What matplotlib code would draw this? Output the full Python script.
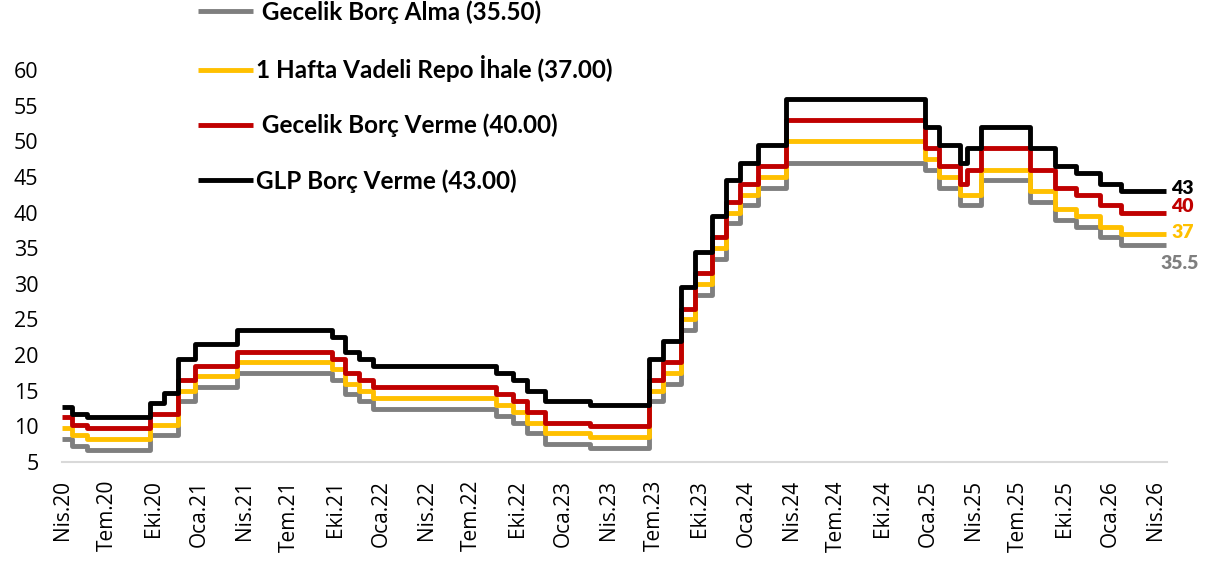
import matplotlib.pyplot as plt
import numpy as np
import pandas as pd

plt.rcParams['font.family'] = ['Open Sans', 'DejaVu Sans']

# karar tarihleri (adım başlangıçları) ve son gün
dates = ['2020-04-01', '2020-04-22', '2020-05-21', '2020-09-24', '2020-10-22',
         '2020-11-19', '2020-12-24', '2021-03-18', '2021-09-23', '2021-10-21',
         '2021-11-18', '2021-12-16', '2022-08-18', '2022-09-22', '2022-10-20',
         '2022-11-24', '2023-02-23', '2023-06-22', '2023-07-20', '2023-08-24',
         '2023-09-21', '2023-10-26', '2023-11-23', '2023-12-21', '2024-01-25',
         '2024-03-21', '2024-12-26', '2025-01-23', '2025-03-06', '2025-03-20',
         '2025-04-17', '2025-07-24', '2025-09-11', '2025-10-23', '2025-12-11',
         '2026-01-22']
end_date = '2026-04-22'

borc_alma = [8.25, 7.25, 6.75, 8.75, 8.75, 13.5, 15.5, 17.5, 16.5, 14.5,
             13.5, 12.5, 11.5, 10.5, 9, 7.5, 7, 13.5, 16, 23.5,
             28.5, 33.5, 38.5, 41, 43.5, 47, 46, 43.5, 41, 41,
             44.5, 41.5, 39, 38, 36.5, 35.5]
repo = [9.75, 8.75, 8.25, 10.25, 10.25, 15, 17, 19, 18, 16,
        15, 14, 13, 12, 10.5, 9, 8.5, 15, 17.5, 25,
        30, 35, 40, 42.5, 45, 50, 47.5, 45, 42.5, 42.5,
        46, 43, 40.5, 39.5, 38, 37]
borc_verme = [11.25, 10.25, 9.75, 11.75, 11.75, 16.5, 18.5, 20.5, 19.5, 17.5,
              16.5, 15.5, 14.5, 13.5, 12, 10.5, 10, 16.5, 19, 26.5,
              31.5, 36.5, 41.5, 44, 46.5, 53, 49, 46.5, 44, 46,
              49, 46, 43.5, 42.5, 41, 40]
glp = [12.75, 11.75, 11.25, 13.25, 14.75, 19.5, 21.5, 23.5, 22.5, 20.5,
       19.5, 18.5, 17.5, 16.5, 15, 13.5, 13, 19.5, 22, 29.5,
       34.5, 39.5, 44.5, 47, 49.5, 56, 52, 49.5, 47, 49,
       52, 49, 46.5, 45.5, 44, 43]

labels = [' Gecelik Borç Alma (35.50)', '1 Hafta Vadeli Repo İhale (37.00)',
          ' Gecelik Borç Verme (40.00)', 'GLP Borç Verme (43.00)']
end_texts = ['35.5', '37', '40', '43']
colors = ['#7F7F7F', '#FFC000', '#C00000', '#000000']
series = [borc_alma, repo, borc_verme, glp]

tick_dates = pd.date_range('2020-04-01', '2026-04-01', freq='3MS')
ay = {1: 'Oca', 4: 'Nis', 7: 'Tem', 10: 'Eki'}
tick_labels = [f'{ay[d.month]}.{d.strftime("%y")}' for d in tick_dates]

x = pd.to_datetime(dates + [end_date])

fig = plt.figure(figsize=(12.22, 5.66), dpi=100)
ax = fig.add_axes([62 / 1222, 1 - 462 / 566, 1105 / 1222, 392 / 566])

for vals, c, lab in zip(series, colors, labels):
    ax.plot(x, vals + [vals[-1]], drawstyle='steps-post', color=c, lw=3.5,
            label=lab, solid_joinstyle='round', solid_capstyle='butt', clip_on=False)

# sağ uçtaki değer etiketleri
offsets = [(-4, -13.5), (4, 0.8), (3.5, 4.3), (3.5, 1.6)]
for vals, c, t, off in zip(series, colors, end_texts, offsets):
    ax.annotate(t, xy=(x[-1], vals[-1]), xytext=off, textcoords='offset points',
                ha='left', va='center', color=c, fontsize=14, fontweight='heavy',
                family='Lato', annotation_clip=False)

ax.set_xlim(pd.Timestamp('2020-04-01'), pd.Timestamp('2026-04-24'))
ax.set_ylim(5, 60)
ax.set_yticks(np.arange(5, 61, 5))
ax.set_xticks(tick_dates)
ax.set_xticklabels(tick_labels, rotation=90, fontsize=15)
ax.tick_params(axis='y', labelsize=15.5)
ax.tick_params(axis='x', length=0, pad=13)
ax.tick_params(axis='y', length=0, pad=17)

for s in ['top', 'right', 'left']:
    ax.spines[s].set_visible(False)
ax.spines['bottom'].set_color('#D9D9D9')
ax.spines['bottom'].set_linewidth(1.5)

ax.legend(loc='upper left', bbox_to_anchor=(198 / 1222, 1.0), bbox_transform=fig.transFigure,
          frameon=False, prop={'family': 'Lato', 'weight': 'bold', 'size': 17.5},
          handlelength=2.25, handletextpad=0.15, labelspacing=1.3, borderpad=0.0,
          borderaxespad=0)

fig.savefig('out.png', dpi=100)
